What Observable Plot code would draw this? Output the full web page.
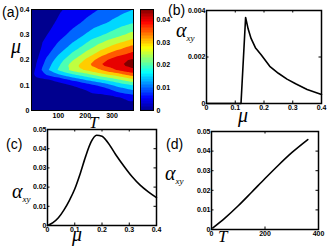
<!DOCTYPE html>
<html><head><meta charset="utf-8">
<script src="https://cdn.jsdelivr.net/npm/d3@7"></script>
<script src="https://cdn.jsdelivr.net/npm/@observablehq/plot@0.6"></script>
<style>
body{margin:0;background:#fff;}
#fig{position:relative;width:329px;height:250px;overflow:hidden;font-family:"Liberation Sans",Arial,sans-serif;background:#fff;}
#fig svg{position:absolute;left:0;top:0;}
.lbl{position:absolute;line-height:1;white-space:nowrap;color:#000;}
.pl{font-size:14px;font-family:"Liberation Sans",Arial,sans-serif;}
.gr{font-family:"Liberation Serif","DejaVu Serif",serif;font-style:italic;}
</style></head><body><div id="fig"></div>
<script>
// ---------- data ----------
// (a) heat map samples: one row of alpha values per temperature column, along aMu
const aT = [0, 22, 54, 98, 152, 206, 260, 315, 380];
const aMu = [0, 0.05, 0.1, 0.12, 0.13, 0.14, 0.16, 0.18, 0.2, 0.25, 0.3, 0.35, 0.4];
const aAlpha = [
  [0, 0, 0, 0, 0.0025, 0.0034, 0.0027, 0.0023, 0.0019, 0.0013, 0.0009, 0.0006, 0.0004],
  [0, 0, 0, 0.001, 0.005, 0.0075, 0.0068, 0.0058, 0.005, 0.0035, 0.0024, 0.0017, 0.0012],
  [0, 0, 0.0005, 0.0035, 0.0072, 0.010, 0.0135, 0.012, 0.0105, 0.0068, 0.0047, 0.0033, 0.0025],
  [0, 0.0003, 0.002, 0.0068, 0.0095, 0.0137, 0.0203, 0.019, 0.017, 0.0115, 0.0078, 0.0055, 0.0042],
  [0, 0.0008, 0.0052, 0.0103, 0.0146, 0.0185, 0.0265, 0.0275, 0.0244, 0.017, 0.0116, 0.0082, 0.0063],
  [0, 0.0015, 0.0075, 0.015, 0.0187, 0.0225, 0.0308, 0.0337, 0.0313, 0.0226, 0.0157, 0.011, 0.0083],
  [0, 0.0025, 0.011, 0.019, 0.023, 0.0275, 0.0348, 0.0402, 0.038, 0.028, 0.0194, 0.0137, 0.0104],
  [0, 0.004, 0.016, 0.023, 0.027, 0.031, 0.0398, 0.0438, 0.0428, 0.0326, 0.023, 0.0164, 0.0125],
  [0, 0.0068, 0.020, 0.028, 0.0325, 0.037, 0.044, 0.047, 0.046, 0.037, 0.027, 0.0195, 0.015]
];
const levels = [0, 0.005, 0.01, 0.015, 0.02, 0.025, 0.03, 0.035, 0.04, 0.045];
const aTTicks = [100, 200, 300];
const muTicks = [0, 0.1, 0.2, 0.3, 0.4];
const cbTicks = [0, 0.01, 0.02, 0.03, 0.04];
const cbMax = 0.0445;

// (b) alpha_xy vs mu, low temperature
const muB = [0, 0.12, 0.136, 0.145, 0.155, 0.17, 0.19, 0.22, 0.25, 0.28, 0.31, 0.35, 0.4];
const alphaB = [0, 0, 0.0037, 0.0032, 0.0028, 0.0024, 0.0021, 0.0016, 0.0013, 0.00105, 0.00085, 0.0006, 0.00039];
const bYTicks = [0, 0.002, 0.004];

// (c) alpha_xy vs mu, high temperature
const muC = [0, 0.02, 0.04, 0.06, 0.08, 0.1, 0.12, 0.14, 0.16, 0.18, 0.2, 0.22, 0.25, 0.28, 0.31, 0.34, 0.37, 0.4];
const alphaC = [0, 0.0015, 0.004, 0.008, 0.013, 0.019, 0.027, 0.036, 0.0435, 0.047, 0.0465, 0.0435, 0.037, 0.031, 0.0255, 0.021, 0.0175, 0.0145];
const cYTicks = [0, 0.01, 0.02, 0.03, 0.04, 0.05];

// (d) alpha_xy vs T
const tD = [5, 50, 100, 150, 200, 250, 300, 360];
const alphaD = [0.0008, 0.0058, 0.0121, 0.019, 0.026, 0.0328, 0.0392, 0.0459];
const dXTicks = [0, 200, 400];

// ---------- drawing ----------
const W = 329, H = 250;
const fig = document.getElementById("fig");
const box = (l, t, r, b) => ({marginLeft: l, marginTop: t, marginRight: W - r, marginBottom: H - b});
const fmt = d => String(d);
const style = {fontSize: "7px", fontWeight: "bold", fontFamily: "Liberation Sans, Arial, sans-serif", color: "#000", background: "transparent", overflow: "visible"};
const jetStops = [0, 0.125, 0.375, 0.625, 0.875, 1];
const jetColors = ["#00008f", "#0000ff", "#00ffff", "#ffff00", "#ff0000", "#800000"];
const colorOpts = {type: "linear", domain: jetStops.map(s => s * cbMax), range: jetColors, interpolate: "rgb", clamp: true};
const ax = (o) => Object.assign({tickSize: 0, label: null, tickFormat: fmt}, o);
// short inward tick marks on all four sides (frame width w, height h in px)
const inward = (xt, yt, w, h) => [
  Plot.tickX(xt, {x: d => d, insetTop: h - 2.5, stroke: "#000"}),
  Plot.tickX(xt, {x: d => d, insetBottom: h - 2.5, stroke: "#000"}),
  Plot.tickY(yt, {y: d => d, insetRight: w - 2.5, stroke: "#000"}),
  Plot.tickY(yt, {y: d => d, insetLeft: w - 2.5, stroke: "#000"})
];

const heat = aT.flatMap((T, i) => aMu.map((mu, j) => ({T, mu, a: aAlpha[i][j]})));

const pa = Plot.plot({
  width: W, height: H, ...box(31, 9, 133, 110), style,
  x: ax({domain: [0, 380], ticks: aTTicks, tickPadding: 3}),
  y: ax({domain: [0, 0.4], ticks: muTicks, tickPadding: 2}),
  color: colorOpts,
  marks: [
    Plot.contour(heat, {x: "T", y: "mu", fill: "a", interpolate: "barycentric", thresholds: levels, stroke: "none"}),
    Plot.frame({stroke: "#000", strokeWidth: 1})
  ]
});

const pcb = Plot.plot({
  width: W, height: H, ...box(140, 9, 153, 110), style,
  x: {domain: [0, 1], axis: null},
  y: ax({domain: [0, cbMax], ticks: cbTicks, axis: "right", tickPadding: 3}),
  color: colorOpts,
  marks: [
    Plot.raster({x1: 0, x2: 1, y1: 0, y2: cbMax, width: 1, height: 64, fill: (x, y) => y, imageRendering: "pixelated"}),
    Plot.frame({stroke: "#000", strokeWidth: 1})
  ]
});

const lineOpts = {stroke: "#000", strokeWidth: 1.6};
const pb = Plot.plot({
  width: W, height: H, ...box(206, 10, 321, 103), style,
  x: ax({domain: [0, 0.4], ticks: muTicks, tickPadding: 2}),
  y: ax({domain: [0, 0.004], ticks: bYTicks, tickPadding: 1}),
  marks: [
    ...inward(muTicks, bYTicks, 115, 93),
    Plot.line(muB.map((m, i) => ({m, a: alphaB[i]})), {x: "m", y: "a", ...lineOpts}),
    Plot.frame({stroke: "#000", strokeWidth: 1.5})
  ]
});

const pc = Plot.plot({
  width: W, height: H, ...box(47, 129, 156, 225), style,
  x: ax({domain: [0, 0.4], ticks: muTicks, tickPadding: 2}),
  y: ax({domain: [0, 0.05], ticks: cYTicks, tickPadding: 1}),
  marks: [
    ...inward(muTicks, cYTicks, 109, 96),
    Plot.line(muC.map((m, i) => ({m, a: alphaC[i]})), {x: "m", y: "a", curve: "monotone-x", ...lineOpts}),
    Plot.frame({stroke: "#000", strokeWidth: 1.5})
  ]
});

const pd = Plot.plot({
  width: W, height: H, ...box(211, 131, 318, 229), style,
  x: ax({domain: [0, 400], ticks: dXTicks, tickPadding: 2}),
  y: ax({domain: [0, 0.05], ticks: cYTicks, tickPadding: 1}),
  marks: [
    ...inward(dXTicks, cYTicks, 107, 98),
    Plot.line(tD.map((t, i) => ({t, a: alphaD[i]})), {x: "t", y: "a", curve: "monotone-x", ...lineOpts}),
    Plot.frame({stroke: "#000", strokeWidth: 1.5})
  ]
});

[pa, pcb, pb, pc, pd].forEach(p => fig.appendChild(p));

function label(html, cls, left, top, size) {
  const d = document.createElement("div");
  d.className = "lbl " + cls;
  d.style.left = left + "px"; d.style.top = top + "px";
  if (size) d.style.fontSize = size + "px";
  d.innerHTML = html;
  fig.appendChild(d);
}
const alpha = '\u03B1<span style="font-size:9px;position:relative;top:4px;">xy</span>';
label("(a)", "pl", 2, 5);
label("(b)", "pl", 168, 3);
label("(c)", "pl", 6, 137);
label("(d)", "pl", 166, 137);
label("\u03BC", "gr", 11, 36, 20);
label("T", "gr", 89, 114, 17);
label("\u03BC", "gr", 238, 105, 20);
label("\u03BC", "gr", 72, 224, 20);
label("T", "gr", 218, 228, 17);
label(alpha, "gr", 176, 20, 20);
label(alpha, "gr", 12, 181, 20);
label(alpha, "gr", 165, 163, 20);
</script></body></html>
